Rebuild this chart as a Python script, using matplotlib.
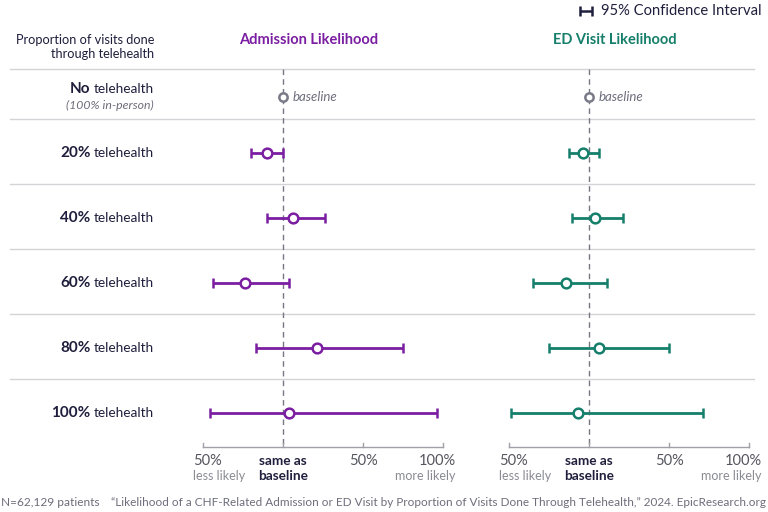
import numpy as np
import matplotlib.pyplot as plt

plt.rcParams['font.family'] = ['Lato', 'DejaVu Sans']

# data: % change in likelihood vs. no telehealth
categories = ["20%", "40%", "60%", "80%", "100%"]
adm_est = [-10, 6.5, -24, 21, 3.5]
adm_low = [-20, -10, -44, -17, -45.5]
adm_high = [0, 26, 4, 75, 96.5]
ed_est = [-4, 4, -14.5, 6.5, -7]
ed_low = [-12.5, -10.5, -35, -25, -48.5]
ed_high = [6, 21.5, 11.5, 50, 71.5]
tick_vals = [-50, 0, 50, 100]

PURPLE = '#7b1ea2'
GREEN = '#157f6b'
NAVY = '#1f1f3d'
GRAY = '#6e6e7c'
LIGHT = '#d4d4d8'

W, H = 768, 512
fig = plt.figure(figsize=(W / 100, H / 100), dpi=100)

# background axes in pixel units for layout text and separators
bg = fig.add_axes([0, 0, 1, 1])
bg.set_xlim(0, W)
bg.set_ylim(H, 0)
bg.axis('off')

row_y = [153, 218, 283, 348, 413]
base_y = 97
sep_y = [69, 119, 184, 249, 314, 379]
for y in sep_y:
    bg.plot([10, 754], [y, y], color=LIGHT, lw=1, zorder=0)

bg.text(154, 47, "Proportion of visits done\nthrough telehealth", ha='right', va='center',
        fontsize=9.2, color=NAVY, linespacing=1.3)

# row labels: bold percent + regular "telehealth"
def row_label(y, bold, rest, bold_size=11):
    t = bg.text(154, y, rest, ha='right', va='baseline', fontsize=9.8, color=NAVY)
    bg.annotate(bold, xy=(0, y), xycoords=(t, 'data'), xytext=(-2.5, 0),
                textcoords='offset points', ha='right', va='baseline',
                fontsize=bold_size, fontweight='bold', color=NAVY)

row_label(base_y - 4, "No", "telehealth")
bg.text(154, base_y + 8, "(100% in-person)", ha='right', va='center', fontsize=8.8,
        style='italic', color=GRAY)
for y, c in zip(row_y, categories):
    row_label(y + 4, c, "telehealth")

# legend
bg.errorbar([586], [11], xerr=[[6], [6]], fmt='none', ecolor=NAVY, elinewidth=1.8,
            capsize=3.5, capthick=1.8)
bg.text(601, 11, "95% Confidence Interval", ha='left', va='center', fontsize=10.6, color=NAVY)

# footer
bg.text(1, 503, "N=62,129 patients", ha='left', va='center', fontsize=8.6, color=GRAY)
bg.text(766, 503, "\u201cLikelihood of a CHF-Related Admission or ED Visit by Proportion of Visits "
        "Done Through Telehealth,\u201d 2024. EpicResearch.org", ha='right', va='center',
        fontsize=8.5, color=GRAY)


def panel(left_px, title, color, est, low, high):
    ax = fig.add_axes([left_px / W, 0, 240 / W, 1])
    ax.set_xlim(tick_vals[0], tick_vals[-1])
    ax.set_ylim(H, 0)
    ax.axis('off')

    ax.text(0 + 16, 40, title, ha='center', va='center', fontsize=10.5,
            fontweight='bold', color=color)

    ax.plot([0, 0], [69, 447], color='#777783', lw=1, ls=(0, (4, 3)), zorder=1)

    # baseline point
    ax.plot([0], [base_y], 'o', ms=6, mfc='white', mec='#7a7a88', mew=1.8, zorder=3)
    ax.annotate("baseline", xy=(0, base_y), xytext=(7, 0), textcoords='offset points',
                ha='left', va='center', fontsize=9.5, style='italic', color=GRAY)

    est = np.array(est)
    xerr = [est - np.array(low), np.array(high) - est]
    ax.errorbar(est, row_y, xerr=xerr, fmt='none', ecolor=color, elinewidth=2,
                capsize=3.5, capthick=1.8, zorder=2, clip_on=False)
    ax.plot(est, row_y, 'o', ms=7, mfc='white', mec=color, mew=1.8, zorder=3, clip_on=False)

    # x axis
    ax.plot([tick_vals[0], tick_vals[-1]], [447, 447], color='#a0a0a8', lw=1, clip_on=False)
    for v in tick_vals:
        ax.plot([v, v], [443, 447], color='#a0a0a8', lw=1, clip_on=False)
    ax.annotate("50%", xy=(-50, 461), xytext=(-7, 0), textcoords='offset points',
                ha='left', va='center', fontsize=10.5, color='#55555f')
    ax.annotate("less likely", xy=(-50, 476), xytext=(-7, 0), textcoords='offset points',
                ha='left', va='center', fontsize=9, color='#8a8a94')
    ax.text(0, 461, "same as", ha='center', va='center', fontsize=9.8,
            fontweight='bold', color=NAVY)
    ax.text(0, 476, "baseline", ha='center', va='center', fontsize=9.8,
            fontweight='bold', color=NAVY)
    ax.text(50, 461, "50%", ha='center', va='center', fontsize=10.5, color='#55555f')
    ax.annotate("100%", xy=(100, 461), xytext=(9, 0), textcoords='offset points',
                ha='right', va='center', fontsize=10.5, color='#55555f')
    ax.annotate("more likely", xy=(100, 476), xytext=(9, 0), textcoords='offset points',
                ha='right', va='center', fontsize=9, color='#8a8a94')
    return ax


panel(203, "Admission Likelihood", PURPLE, adm_est, adm_low, adm_high)
panel(509, "ED Visit Likelihood", GREEN, ed_est, ed_low, ed_high)

fig.savefig("out.png", dpi=100)
